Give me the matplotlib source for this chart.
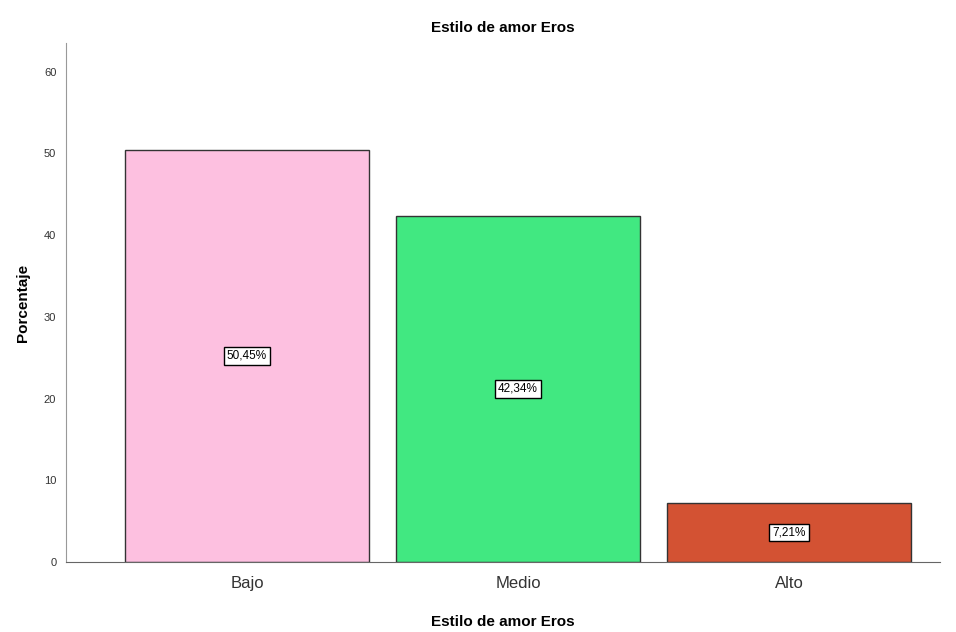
import matplotlib
matplotlib.use("Agg")
import matplotlib.pyplot as plt

categories = ["Bajo", "Medio", "Alto"]
values = [50.45, 42.34, 7.21]
labels = ["50,45%", "42,34%", "7,21%"]
colors = ["#FDC0E0", "#41E881", "#D35233"]
yticks = [0, 10, 20, 30, 40, 50, 60]

plt.rcParams['font.family'] = ['Liberation Sans', 'DejaVu Sans']

fig = plt.figure(figsize=(9.56, 6.32), dpi=100)
ax = fig.add_axes([66/956, 70/632, (940-66)/956, (562-43)/632])

x = list(range(len(categories)))
bars = ax.bar(x, values, width=0.9, color=colors, edgecolor="#333333", linewidth=1.0)
for xi, v, lab in zip(x, values, labels):
    ax.text(xi, v/2, lab, ha="center", va="center", fontsize=8.5, color="black",
            bbox=dict(boxstyle="square,pad=0.25", facecolor="white", edgecolor="black", linewidth=1.0))

ax.set_xlim(-0.668, 2.557)
ax.set_ylim(0, 63.5)
ax.set_yticks(yticks)
ax.set_yticklabels([str(t) for t in yticks], fontsize=8, color="#333333")
ax.set_xticks(x)
ax.set_xticklabels(categories, fontsize=12, color="#333333")
ax.tick_params(axis='x', length=0, pad=10)
ax.tick_params(axis='y', length=0, pad=7)
for s in ["top", "right"]:
    ax.spines[s].set_visible(False)
ax.spines["left"].set_color("#999999")
ax.spines["bottom"].set_color("#666666")

ax.set_title("Estilo de amor Eros", fontsize=11, fontweight="bold", pad=8)
ax.set_xlabel("Estilo de amor Eros", fontsize=11, fontweight="bold", labelpad=17)
ax.set_ylabel("Porcentaje", fontsize=11, fontweight="bold", labelpad=10)

fig.savefig("out.png", dpi=100)
